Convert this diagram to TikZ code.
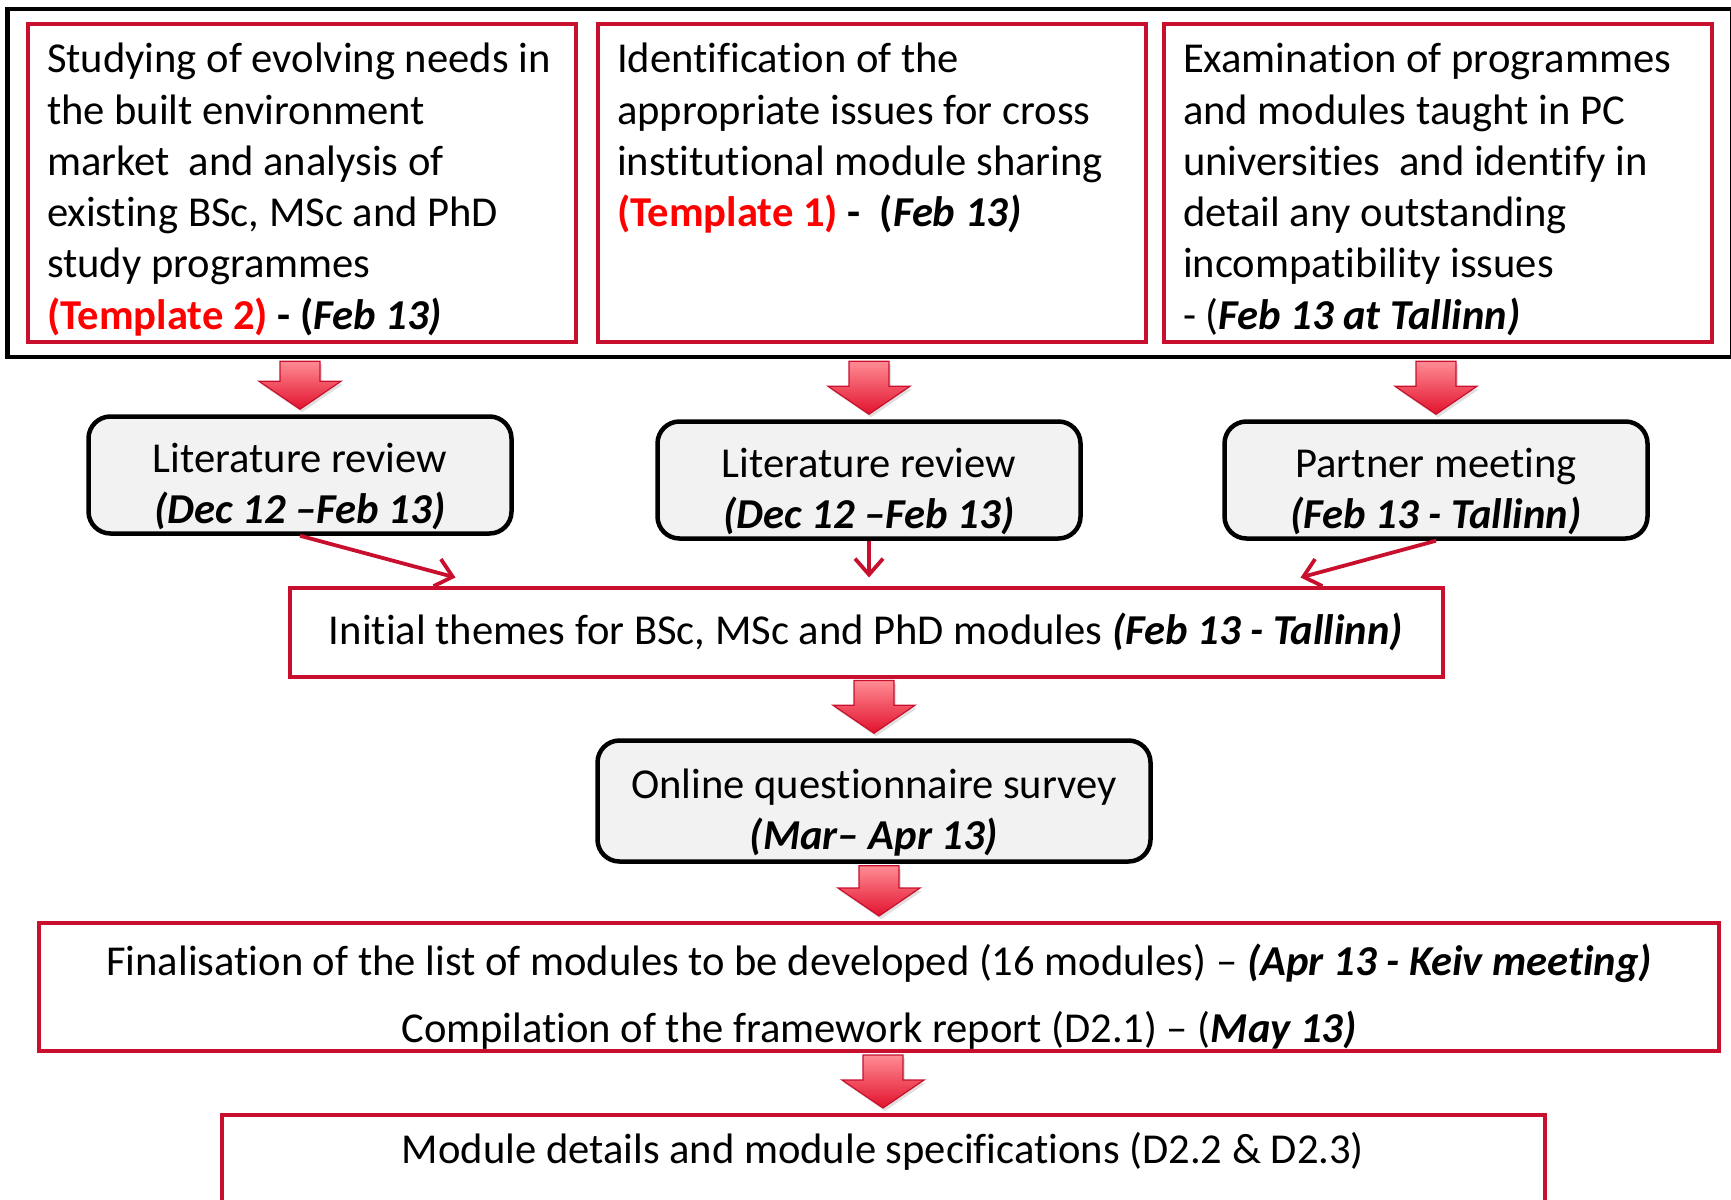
\documentclass[tikz,border=0pt]{standalone}
\usepackage{fontspec}
\setmainfont{Carlito}[Ligatures=CommonOff]
\usetikzlibrary{calc,fit,arrows.meta,shadows}
\definecolor{crim}{RGB}{200,16,46}
\definecolor{tred}{RGB}{255,0,0}
\definecolor{boxgray}{RGB}{242,242,242}
\definecolor{arrtop}{RGB}{255,140,148}
\definecolor{arrbot}{RGB}{226,18,45}
\tikzset{
  redbox/.style={draw=crim,line width=4pt,fill=white},
  topbox/.style={redbox,anchor=north west,text width=526pt,align=flush left,
    inner xsep=11pt,inner ysep=10pt,text height=39pt,text depth=259pt,
    execute at begin node={\leftskip=8pt\relax}},
  greybox/.style={draw=black,line width=4.5pt,fill=boxgray,rounded corners=22pt,
    minimum width=423pt,minimum height=117pt,align=center,inner ysep=0pt,
    text height=107pt,text depth=10pt},
  bigarrow/.style={draw=crim,line width=1.2pt,top color=arrtop,bottom color=arrbot,
    drop shadow={shadow xshift=2pt,shadow yshift=-3pt,opacity=.25}},
  thinarrow/.style={draw=crim,line width=3.8pt,-{Straight Barb[length=16pt,width=28pt]}}
}

\begin{document}
\begin{tikzpicture}[x=1pt,y=-1pt,font=\fontsize{42.6}{51.2}\selectfont]
\useasboundingbox (0,0) rectangle (1731,1199);

\node (tb1) [topbox] at (26,22) {Studying of evolving needs in\\ the built environment\\ market\ \ and analysis of\\ existing BSc, MSc and PhD\\ study programmes\\ {\color{tred}\bfseries (Template 2)} \textbf{- (\textit{Feb 13)}}};
\node (tb2) [topbox] at (596,22) {Identification of the\\ appropriate issues for cross\\ institutional module sharing\\ {\color{tred}\bfseries (Template 1)} \textbf{-\ \ (\textit{Feb 13)}}};
\node (tb3) [topbox] at (1162,22) {Examination of programmes\\ and modules taught in PC\\ universities\ \ and identify in\\ detail any outstanding\\ incompatibility issues\\ - (\textbf{\textit{Feb 13 at Tallinn)}}};
\node (top) [draw,line width=4.5pt,fit=(tb1)(tb3),inner xsep=18.5pt,inner ysep=13pt] {};

\node (lr1) [greybox] at (300,475) {Literature review\\ \textbf{\textit{(Dec 12 –Feb 13)}}};
\node (lr2) [greybox] at (869,480) {Literature review\\ \textbf{\textit{(Dec 12 –Feb 13)}}};
\node (pm) [greybox] at (1436,480) {Partner meeting\\ \textbf{\textit{(Feb 13 - Tallinn)}}};

\node (themes) [redbox,minimum width=1153pt,minimum height=89pt] at (866,632) {Initial themes for BSc, MSc and PhD modules \textbf{\textit{(Feb 13 - Tallinn)}}};
\node (online) [greybox,minimum width=553pt,minimum height=121pt] at (874,801) {Online questionnaire survey\\ \textbf{\textit{(Mar– Apr 13)}}};
\node (final) [redbox,minimum width=1680pt,minimum height=128pt,align=center,inner ysep=0pt,text height=119pt,text depth=8pt] at (879,987) {Finalisation of the list of modules to be developed (16 modules) – \textbf{\textit{(Apr 13 - Keiv meeting)}}\\[16pt] Compilation of the framework report (D2.1) – (\textbf{\textit{May 13)}}};
\node (module) [redbox,anchor=north,minimum width=1323pt,inner ysep=0pt,text height=48pt,text depth=150pt] at (883,1113) {Module details and module specifications (D2.2 \& D2.3)};

\foreach \a/\b in {top/lr1,top/lr2,top/pm,themes/online,online/final,final/module}{
  \path (\a.south -| \b.north) coordinate (p) (\b.north) ++(0,-5) coordinate (q);
  \draw[bigarrow] ($(p)+(-20,2)$) -- ($(p)+(20,2)$) -- ($(q)+(20,-28)$) -- ($(q)+(41,-28)$)
    -- (q) -- ($(q)+(-41,-28)$) -- ($(q)+(-20,-28)$) -- cycle;
}

\coordinate (in1) at ($(themes.north west)+(168,-8)$);
\coordinate (in3) at ($(themes.north east)+(-144,-8)$);
\draw[thinarrow] (lr1.south) -- (in1);
\draw[thinarrow] (lr2.south) -- (lr2.south |- in1);
\draw[thinarrow] (pm.south) -- (in3);
\end{tikzpicture}
\end{document}
